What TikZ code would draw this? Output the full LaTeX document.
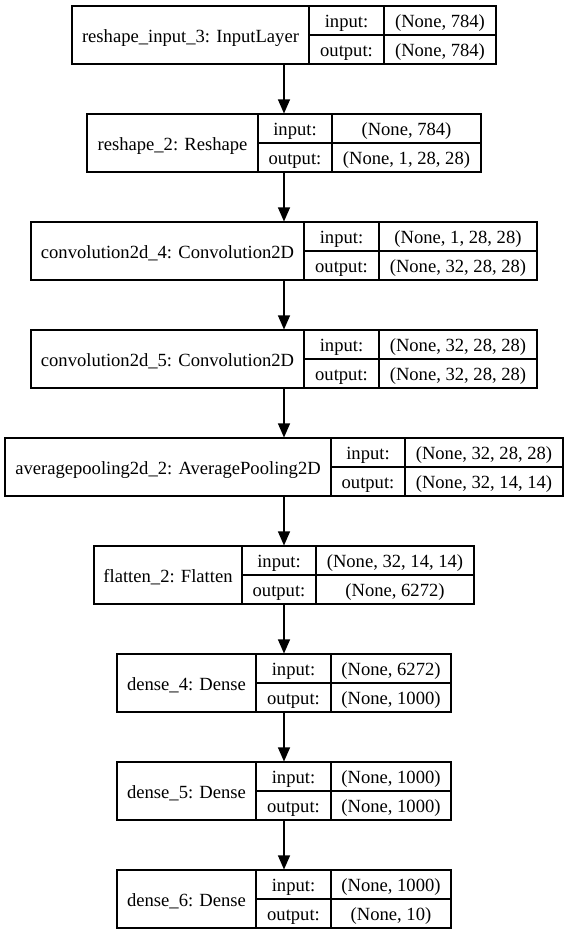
\documentclass[tikz,border=0pt]{standalone}
\usepackage{fontspec}
\setmainfont{Liberation Serif}
\usetikzlibrary{arrows.meta}
\tikzset{
  box/.style={draw, line width=1.1pt, inner sep=0pt, minimum height=58pt},
  cell/.style={line width=1.1pt},
  txt/.style={inner sep=0pt, text height=14pt, text depth=0pt, font=\fontsize{18.6}{22}\selectfont},
  flow/.style={line width=1.1pt, -{Triangle[length=14pt, width=12pt]}}
}
% name, L, A, B, R, T, label, in, out
\newcommand\kerasLayer[9]{%
  \node[box, minimum width={(#5-#2)*1pt}] (#1) at ({(#2+#5)/2},{#6+29}) {};
  \draw[cell] (#3,#6) -- (#3,#6+58);
  \draw[cell] (#4,#6) -- (#4,#6+58);
  \draw[cell] (#3,#6+29) -- (#5,#6+29);
  \node[txt] (#1-name) at ({(#2+#3)/2},{#6+29}) {#7};
  \node[txt] (#1-inl) at ({(#3+#4)/2},{#6+14.5}) {input:};
  \node[txt] (#1-outl) at ({(#3+#4)/2},{#6+43.5}) {output:};
  \node[txt] (#1-inv) at ({(#4+#5)/2},{#6+14.5}) {#8};
  \node[txt] (#1-outv) at ({(#4+#5)/2},{#6+43.5}) {#9};
}
\begin{document}
\begin{tikzpicture}[x=1pt, y=-1pt]
  \fill[white] (0,0) rectangle (568,935);
  \useasboundingbox (0,0) rectangle (568,935);
  \kerasLayer{l1}{72}{309}{384}{496}{6}{reshape\_input\_3: InputLayer}{(None, 784)}{(None, 784)}
  \kerasLayer{l2}{87}{258}{332}{481}{114}{reshape\_2: Reshape}{(None, 784)}{(None, 1, 28, 28)}
  \kerasLayer{l3}{31}{304}{379}{537}{222}{convolution2d\_4: Convolution2D}{(None, 1, 28, 28)}{(None, 32, 28, 28)}
  \kerasLayer{l4}{31}{304}{379}{537}{330}{convolution2d\_5: Convolution2D}{(None, 32, 28, 28)}{(None, 32, 28, 28)}
  \kerasLayer{l5}{5}{331}{405}{563}{438}{averagepooling2d\_2: AveragePooling2D}{(None, 32, 28, 28)}{(None, 32, 14, 14)}
  \kerasLayer{l6}{94}{242}{316}{474}{546}{flatten\_2: Flatten}{(None, 32, 14, 14)}{(None, 6272)}
  \kerasLayer{l7}{117}{256}{331}{451}{654}{dense\_4: Dense}{(None, 6272)}{(None, 1000)}
  \kerasLayer{l8}{117}{256}{331}{451}{762}{dense\_5: Dense}{(None, 1000)}{(None, 1000)}
  \kerasLayer{l9}{117}{256}{331}{451}{870}{dense\_6: Dense}{(None, 1000)}{(None, 10)}
  \draw[flow] (l1.south) -- (l2.north);
  \draw[flow] (l2.south) -- (l3.north);
  \draw[flow] (l3.south) -- (l4.north);
  \draw[flow] (l4.south) -- (l5.north);
  \draw[flow] (l5.south) -- (l6.north);
  \draw[flow] (l6.south) -- (l7.north);
  \draw[flow] (l7.south) -- (l8.north);
  \draw[flow] (l8.south) -- (l9.north);
\end{tikzpicture}
\end{document}
